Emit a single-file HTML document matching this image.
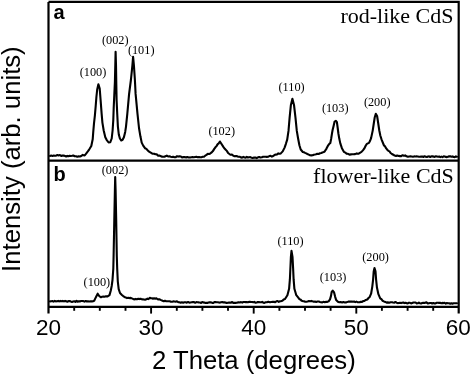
<!DOCTYPE html>
<html><head><meta charset="utf-8"><style>
html,body{margin:0;padding:0;background:#fff;width:472px;height:376px;overflow:hidden}
svg{display:block;filter:grayscale(1)}
</style></head><body>
<svg width="472" height="376" viewBox="0 0 472 376">
<rect width="472" height="376" fill="#fff"/>
<g fill="none" stroke="#000" stroke-linejoin="round" stroke-linecap="round">
<polyline points="50.0,156.0 51.2,155.6 52.5,155.9 53.7,155.6 54.9,155.8 56.1,155.7 57.4,155.0 58.6,155.4 59.9,155.0 61.2,156.0 62.4,155.5 63.7,155.6 65.0,156.0 66.2,156.5 67.3,155.9 68.5,156.3 69.7,155.8 70.8,156.0 72.0,155.8 73.3,155.5 74.7,156.2 76.0,156.2 77.3,156.7 78.7,156.4 80.0,156.5 81.3,156.0 82.7,154.9 84.7,155.5 86.7,152.8 88.0,151.2 89.3,149.3 91.3,146.0 92.7,139.3 93.3,131.3 94.0,123.3 94.9,115.3 95.7,106.0 96.4,97.0 97.2,89.5 98.4,84.2 99.7,88.5 100.6,100.0 101.6,113.3 102.4,122.6 103.7,130.5 105.3,137.2 106.6,139.8 108.6,142.5 110.3,142.2 111.7,138.5 112.6,130.5 113.3,119.9 113.7,108.0 114.3,95.0 114.9,82.0 115.3,65.0 115.6,51.8 116.0,65.0 116.3,84.0 116.6,100.0 117.2,113.3 117.9,126.6 118.8,134.5 119.9,138.5 121.2,140.5 122.6,139.8 123.9,137.2 125.2,131.9 126.0,126.6 127.3,113.9 129.1,93.9 130.9,80.0 132.4,65.3 133.1,56.8 133.9,65.3 134.9,80.0 135.6,93.9 137.5,113.9 139.0,128.0 140.4,136.3 141.7,142.6 143.2,145.6 145.0,148.2 146.4,148.9 147.8,150.5 149.1,151.7 150.3,152.4 151.6,153.2 152.9,153.7 154.2,153.8 155.4,154.3 156.7,154.2 157.9,155.6 159.2,155.6 160.5,156.0 161.7,156.6 163.0,156.8 164.3,156.8 165.5,156.2 166.8,155.6 168.1,156.5 169.4,156.3 170.7,156.8 172.0,157.1 173.2,156.7 174.5,157.2 175.8,157.1 177.0,156.2 178.3,156.6 179.6,156.3 180.9,156.5 182.1,157.5 183.4,157.1 184.7,157.1 186.0,157.4 187.4,157.1 188.7,157.4 190.0,157.5 191.3,157.2 192.6,157.1 193.8,157.2 195.1,157.0 196.4,156.8 197.7,157.2 198.9,157.0 200.2,157.3 201.4,157.2 202.7,156.8 204.0,156.7 205.2,155.7 206.5,154.9 207.8,153.9 209.1,154.0 210.3,153.5 211.6,152.4 212.9,151.1 214.1,149.1 215.4,147.3 216.5,146.1 217.7,144.1 218.8,143.3 219.9,141.5 223.7,147.3 224.8,148.8 225.9,149.9 227.0,151.1 228.1,153.0 229.4,154.0 230.6,154.8 231.9,154.5 233.2,155.6 234.5,156.2 235.8,156.1 237.0,156.1 238.3,156.8 239.6,156.7 240.8,157.4 242.1,157.6 243.3,156.9 244.6,157.5 245.7,157.6 246.8,156.8 247.9,157.5 249.0,157.2 250.3,157.1 251.6,157.8 252.8,158.0 254.1,157.5 255.4,157.6 256.7,158.1 258.0,157.3 259.2,157.0 260.5,157.5 261.8,157.3 263.1,156.7 264.3,156.7 265.6,156.8 266.8,156.9 268.1,156.7 269.4,156.1 270.6,155.8 271.9,156.6 273.2,156.0 274.4,155.1 275.7,154.6 277.0,154.5 278.3,153.4 279.6,153.8 280.8,153.4 282.7,151.4 284.6,147.6 285.9,143.8 287.2,139.6 288.5,130.9 289.6,117.9 290.9,104.9 292.4,98.8 294.0,104.9 295.5,117.9 296.8,130.9 298.1,138.5 299.4,145.3 300.7,149.5 302.8,152.0 303.9,152.3 305.1,152.9 306.2,153.4 307.4,154.0 308.7,154.6 310.0,155.2 311.3,155.4 312.6,155.2 313.8,154.7 314.9,154.5 316.1,154.2 317.2,153.8 318.6,154.0 320.0,153.3 321.4,153.0 322.5,152.4 323.7,152.1 324.8,151.3 326.5,148.6 328.2,145.3 329.5,143.6 330.3,143.1 331.2,138.5 332.0,133.4 332.6,130.0 333.6,126.0 334.6,121.6 335.9,120.8 336.9,122.2 337.7,128.0 338.4,133.5 339.2,138.3 340.3,143.4 341.9,148.2 344.0,151.9 345.3,152.6 346.6,153.8 348.0,153.8 349.5,154.7 350.9,154.4 352.3,154.3 353.7,154.3 355.1,154.1 356.7,153.4 358.3,153.8 359.9,152.8 361.5,151.9 362.9,150.4 364.2,148.7 365.8,145.5 366.9,143.9 369.0,142.9 370.2,140.5 371.1,138.1 372.7,130.6 373.7,124.0 374.7,117.5 375.8,113.8 377.1,116.0 378.1,122.5 379.3,130.5 380.3,135.5 381.5,139.3 384.0,145.5 385.1,146.4 386.2,148.4 387.3,149.7 388.4,150.9 389.5,151.4 390.6,153.0 391.9,154.0 393.3,154.7 394.6,155.6 395.9,155.9 397.3,155.6 398.6,155.9 399.9,156.1 401.2,156.1 402.6,155.2 403.9,155.7 405.2,155.4 406.5,156.3 407.9,156.8 409.2,156.5 410.4,156.3 411.6,156.5 412.9,156.7 414.1,156.4 415.3,156.5 416.6,156.4 417.8,156.5 419.0,156.7 420.1,156.8 421.2,156.5 422.4,156.6 423.5,157.0 424.6,156.2 425.7,156.8 426.9,157.0 428.0,156.5 429.1,156.4 430.2,157.0 431.4,156.4 432.5,156.4 433.6,156.6 434.7,156.9 435.9,156.3 437.0,156.5 438.1,156.7 439.2,156.5 440.3,157.1 441.4,156.6 442.5,157.1 443.7,156.3 444.8,156.5 445.9,156.9 447.0,157.1 448.1,156.6 449.2,156.4 450.3,156.3 451.4,156.7 452.6,156.4 453.7,157.0 454.8,157.1 455.9,156.4 457.0,156.7" stroke-width="2.1"/>
<polyline points="50.0,301.4 51.2,301.2 52.3,301.0 53.5,301.6 54.7,300.9 55.8,301.4 57.0,301.3 58.2,300.9 59.3,301.4 60.5,300.9 61.7,301.3 62.8,300.9 64.0,301.4 65.1,300.9 66.3,301.3 67.4,301.8 68.5,301.0 69.7,301.1 70.8,301.5 72.0,301.9 73.1,301.5 74.2,301.3 75.4,301.9 76.5,300.9 77.6,301.8 78.8,301.2 79.9,301.4 81.1,301.0 82.2,301.0 83.4,301.1 84.5,301.7 85.7,301.0 86.8,301.4 88.0,301.3 89.3,301.5 90.7,301.2 92.0,301.4 93.1,301.2 94.2,300.8 95.2,298.6 96.4,296.2 97.7,293.7 99.2,296.0 101.0,297.3 102.1,296.7 103.3,296.5 104.4,296.8 106.0,296.3 107.6,296.4 109.5,295.1 110.8,290.5 111.7,286.0 112.5,280.0 113.3,268.8 113.6,256.0 114.3,220.0 114.9,190.0 115.2,177.0 115.6,190.0 116.2,220.0 116.8,256.0 117.2,268.8 117.8,281.5 118.7,289.2 120.0,293.0 121.9,294.9 123.2,296.1 124.4,296.9 125.7,297.4 127.0,298.1 128.3,297.8 129.5,298.1 130.8,297.9 132.4,298.6 134.0,299.4 135.4,298.9 136.9,299.3 138.3,298.7 139.4,299.1 140.6,298.7 141.7,299.3 142.9,299.4 144.0,299.5 145.1,299.7 146.3,299.3 147.4,298.6 148.5,299.1 149.7,297.9 150.8,298.1 151.9,298.2 153.0,298.7 154.1,298.2 155.2,298.7 156.4,298.3 157.5,299.2 158.6,299.4 159.7,299.3 161.1,300.1 162.6,300.8 163.8,301.3 165.0,300.7 166.2,301.2 167.4,301.2 168.6,301.2 169.7,301.2 170.9,301.7 172.1,301.8 173.3,301.4 174.5,301.5 175.7,301.8 177.0,301.3 178.2,302.1 179.4,302.2 180.7,302.7 181.9,302.3 183.1,302.7 184.4,302.2 185.6,302.3 186.8,302.7 188.1,302.0 189.3,302.6 190.5,302.5 191.7,302.2 192.9,302.1 194.1,302.1 195.2,302.8 196.4,302.1 197.6,302.2 198.8,302.4 200.0,302.5 201.1,302.9 202.2,302.0 203.3,302.4 204.4,302.6 205.6,302.9 206.7,302.9 207.8,302.9 208.9,302.3 210.0,302.4 211.1,302.3 212.2,302.9 213.3,303.0 214.4,302.1 215.6,302.1 216.7,302.2 217.8,302.2 218.9,302.5 220.0,302.6 221.1,302.2 222.2,302.0 223.3,302.4 224.4,302.4 225.6,302.6 226.7,303.0 227.8,302.7 228.9,302.5 230.0,302.6 231.1,302.7 232.2,302.0 233.3,302.9 234.4,302.8 235.6,302.9 236.7,302.8 237.8,302.4 238.9,302.4 240.0,302.5 241.1,302.1 242.2,302.6 243.3,302.0 244.4,302.0 245.6,302.1 246.7,302.1 247.8,302.3 248.9,301.9 250.0,301.9 251.1,302.0 252.2,302.0 253.3,302.3 254.4,301.9 255.6,302.8 256.7,302.5 257.8,302.0 258.9,302.1 260.0,302.2 261.1,302.2 262.2,301.9 263.3,302.7 264.4,302.9 265.6,302.3 266.7,302.3 267.8,301.9 268.9,301.9 270.0,302.3 271.3,302.0 272.7,301.8 274.0,301.9 275.2,302.1 276.4,301.3 277.6,301.0 278.8,301.9 280.0,301.3 281.2,301.1 282.4,300.8 283.7,299.5 285.0,299.0 287.4,295.2 289.1,288.8 289.9,279.2 290.4,268.0 290.9,256.8 291.5,250.8 292.5,256.8 293.1,268.0 293.6,279.2 294.4,288.8 296.3,295.2 297.9,297.2 299.4,299.2 300.5,299.5 301.6,300.8 302.8,301.1 304.0,301.3 305.2,301.8 306.4,301.7 307.6,301.5 308.9,301.0 310.1,301.2 311.3,300.9 312.5,301.3 313.8,301.7 315.0,301.5 316.2,301.9 317.5,301.5 318.8,301.5 320.0,301.9 321.1,302.2 322.3,302.4 323.4,301.8 324.8,302.2 326.1,301.8 327.4,301.9 328.6,301.4 330.0,299.4 331.0,295.9 331.7,291.8 332.7,290.6 334.1,292.4 335.1,296.6 336.2,300.1 337.9,301.8 339.3,302.3 340.7,302.1 342.1,302.5 343.4,302.1 344.8,302.5 346.0,302.4 347.1,302.1 348.3,301.6 349.5,301.5 350.6,301.6 351.8,301.5 352.9,301.8 354.1,301.5 355.2,302.1 356.4,301.6 357.5,302.2 358.6,302.3 359.7,302.3 360.9,301.7 362.0,301.9 363.1,301.1 364.3,301.0 365.8,299.9 367.3,299.5 368.5,298.0 369.6,297.2 371.1,293.7 372.3,286.6 373.1,279.6 373.7,271.4 374.5,268.0 375.5,271.4 376.1,279.6 377.0,287.8 378.4,294.2 380.2,298.3 381.4,299.2 382.5,300.7 383.9,301.4 385.4,301.9 386.6,302.6 387.8,302.4 389.2,302.7 390.6,302.2 392.0,302.2 393.1,302.5 394.3,302.7 395.4,302.0 396.6,302.7 397.7,303.1 398.9,303.0 400.0,302.8 401.1,303.1 402.2,302.8 403.3,302.5 404.4,303.1 405.6,302.7 406.7,303.2 407.8,303.4 408.9,302.7 410.0,302.8 411.1,303.4 412.2,303.1 413.3,302.5 414.4,302.5 415.6,302.5 416.7,303.4 417.8,303.3 418.9,302.5 420.0,303.3 421.1,303.5 422.2,303.1 423.3,302.8 424.4,303.0 425.6,302.6 426.7,302.4 427.8,303.5 428.9,303.2 430.0,303.0 431.1,303.0 432.2,303.5 433.4,303.0 434.5,303.5 435.6,303.4 436.8,302.8 437.9,302.8 439.0,302.9 440.1,302.8 441.2,303.2 442.4,302.9 443.5,303.1 444.6,302.8 445.8,303.6 446.9,303.0 448.0,303.2 449.1,303.3 450.2,303.7 451.4,303.2 452.5,303.7 453.6,303.3 454.8,303.3 455.9,303.3 457.0,303.3" stroke-width="2.1"/>
</g>
<g fill="none" stroke="#000" stroke-width="2.2">
<path d="M48.5,1.9 H458.7 V313.6 M458.7,306.8 H48.5 M48.5,313.6 V1.9 M48.5,160.7 H458.7" stroke-linecap="butt"/>
</g>
<g stroke="#000" stroke-width="1.9"><line x1="74.2" y1="306" x2="74.2" y2="310.8"/><line x1="99.8" y1="306" x2="99.8" y2="310.8"/><line x1="125.5" y1="306" x2="125.5" y2="310.8"/><line x1="151.1" y1="306" x2="151.1" y2="313.6"/><line x1="176.8" y1="306" x2="176.8" y2="310.8"/><line x1="202.4" y1="306" x2="202.4" y2="310.8"/><line x1="228.0" y1="306" x2="228.0" y2="310.8"/><line x1="253.7" y1="306" x2="253.7" y2="313.6"/><line x1="279.4" y1="306" x2="279.4" y2="310.8"/><line x1="305.0" y1="306" x2="305.0" y2="310.8"/><line x1="330.6" y1="306" x2="330.6" y2="310.8"/><line x1="356.3" y1="306" x2="356.3" y2="313.6"/><line x1="381.9" y1="306" x2="381.9" y2="310.8"/><line x1="407.6" y1="306" x2="407.6" y2="310.8"/><line x1="433.2" y1="306" x2="433.2" y2="310.8"/></g>
<g font-family="Liberation Sans, sans-serif" font-size="22.5" text-anchor="middle"><text x="48.5" y="335.1">20</text><text x="151.1" y="335.1">30</text><text x="253.7" y="335.1">40</text><text x="356.3" y="335.1">50</text><text x="458.2" y="335.1">60</text></g>
<text x="152" y="369" font-family="Liberation Sans, sans-serif" font-size="25.7">2 Theta (degrees)</text>
<text transform="translate(19.9,271.9) rotate(-90)" font-family="Liberation Sans, sans-serif" font-size="25.7">Intensity (arb. units)</text>
<g font-family="Liberation Sans, sans-serif" font-weight="bold" font-size="20">
<text x="53.5" y="18.7">a</text><text x="53.5" y="181.2">b</text></g>
<g font-family="Liberation Serif, serif" font-size="22" text-anchor="end">
<text x="453.5" y="22.9">rod-like CdS</text><text x="453.8" y="183">flower-like CdS</text></g>
<g font-family="Liberation Serif, serif" font-size="12.3" text-anchor="middle"><text x="93.0" y="75.6">(100)</text><text x="115.3" y="44.1">(002)</text><text x="141.2" y="53.9">(101)</text><text x="221.7" y="135.1">(102)</text><text x="291.6" y="91.1">(110)</text><text x="335.2" y="111.7">(103)</text><text x="377.2" y="106.0">(200)</text><text x="96.9" y="286.2">(100)</text><text x="115.1" y="173.5">(002)</text><text x="290.5" y="244.5">(110)</text><text x="333.1" y="280.7">(103)</text><text x="375.6" y="261.2">(200)</text></g>
</svg>
</body></html>
